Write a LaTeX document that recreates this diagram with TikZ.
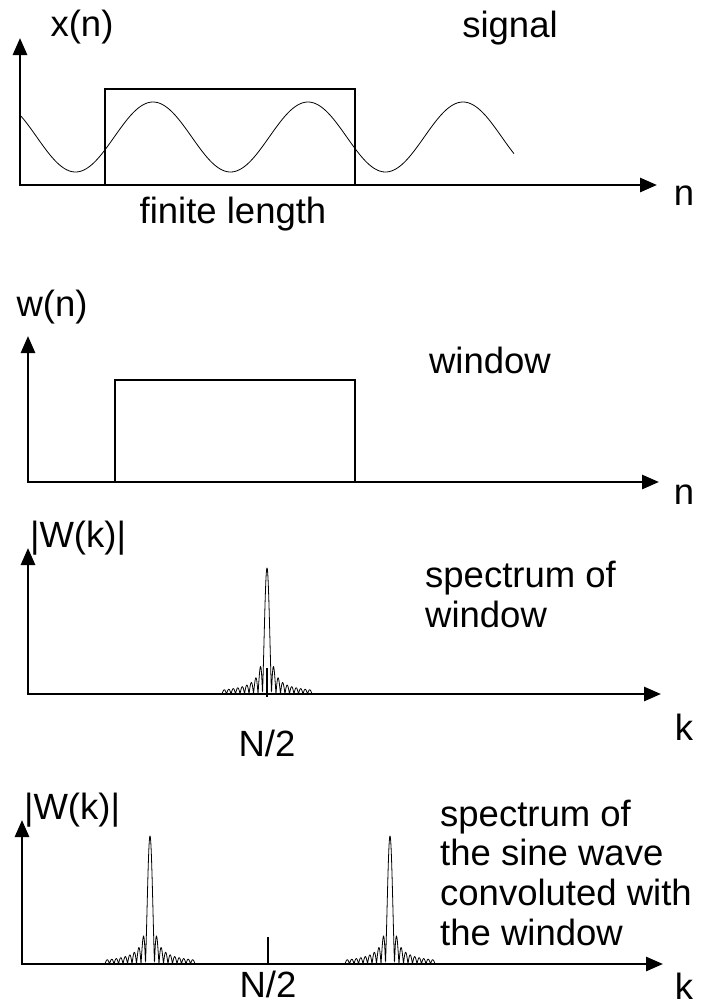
\documentclass[tikz,border=0pt]{standalone}
\usepackage{fontspec}
\setmainfont{Liberation Sans}
\usetikzlibrary{arrows.meta}
\begin{document}
\begin{tikzpicture}[x=1pt,y=-1pt,
  axis/.style={line width=2.8pt,{Triangle[length=17pt,width=14pt]}-{Triangle[length=17pt,width=14pt]}},
  box/.style={line width=2.8pt},
  wave/.style={line width=0.8pt},
  tick/.style={line width=2.8pt},
  lbl/.style={font=\fontsize{36.5}{40}\selectfont,inner sep=0pt},
  line/.style={font=\fontsize{36.5}{40}\selectfont,inner sep=0pt,anchor=base west}]
\useasboundingbox[fill=white] (0,0) rectangle (703,1007);

% ---------- panel 1: signal ----------
\coordinate (y1) at (20,38);
\coordinate (o1) at (20,185);
\coordinate (x1) at (657,185);
\draw[axis] (y1) -- (o1) -- (x1);
\draw[wave] plot[domain=21:514,samples=250] (\x,{137-35*cos(2.32258*(\x-153))});
\draw[box] (105,89) rectangle (355,185);
\node[lbl] (xn) at (82,27) {x(n)};
\node[lbl] (sig) at (510,28) {signal};
\node[lbl] (n1) at (684,196) {n};
\node[lbl] (fin) at (233,214) {finite length};

% ---------- panel 2: window ----------
\coordinate (y2) at (28,336);
\coordinate (o2) at (28,482);
\coordinate (x2) at (659,482);
\draw[axis] (y2) -- (o2) -- (x2);
\draw[box] (115,482) -- (115,380) -- (355,380) -- (355,482);
\node[lbl] (wn) at (52,307) {w(n)};
\node[lbl] (win) at (490,360) {window};
\node[lbl] (n2) at (684,495) {n};

% ---------- panel 3: spectrum of window ----------
\coordinate (y3) at (28,548);
\coordinate (o3) at (28,694);
\coordinate (x3) at (661,694);
\draw[axis] (y3) -- (o3) -- (x3);
\draw[wave] plot[domain=-10:10,samples=400] ({267+4.5*\x},{694-126*abs(sin(180*\x)/(3.14159*\x))});
\coordinate (t3a) at (267,668);
\coordinate (t3b) at (267,697);
\draw[tick] (t3a) -- (t3b);
\node[lbl] (W3) at (78,538) {|W(k)|};
\node[lbl] (N3) at (267,743) {N/2};
\node[lbl] (k3) at (684,727) {k};
\node[line] (s3a) at (425,587) {spectrum of};
\node[line] (s3b) at (425,627) {window};

% ---------- panel 4: spectrum of sine * window ----------
\coordinate (y4) at (22,820);
\coordinate (o4) at (22,964);
\coordinate (x4) at (663,964);
\draw[axis] (y4) -- (o4) -- (x4);
\draw[wave] plot[domain=-10:10,samples=400] ({150+4.5*\x},{964-128*abs(sin(180*\x)/(3.14159*\x))});
\draw[wave] plot[domain=-10:10,samples=400] ({390+4.5*\x},{964-128*abs(sin(180*\x)/(3.14159*\x))});
\coordinate (t4a) at (268,937);
\coordinate (t4b) at (268,964);
\draw[tick] (t4a) -- (t4b);
\node[lbl] (W4) at (72,810) {|W(k)|};
\node[lbl] (N4) at (268,984) {N/2};
\node[lbl] (k4) at (684,986) {k};
\node[line] (s4a) at (440,826) {spectrum of};
\node[line] (s4b) at (440,865) {the sine wave};
\node[line] (s4c) at (440,905) {convoluted with};
\node[line] (s4d) at (440,945) {the window};
\end{tikzpicture}
\end{document}
